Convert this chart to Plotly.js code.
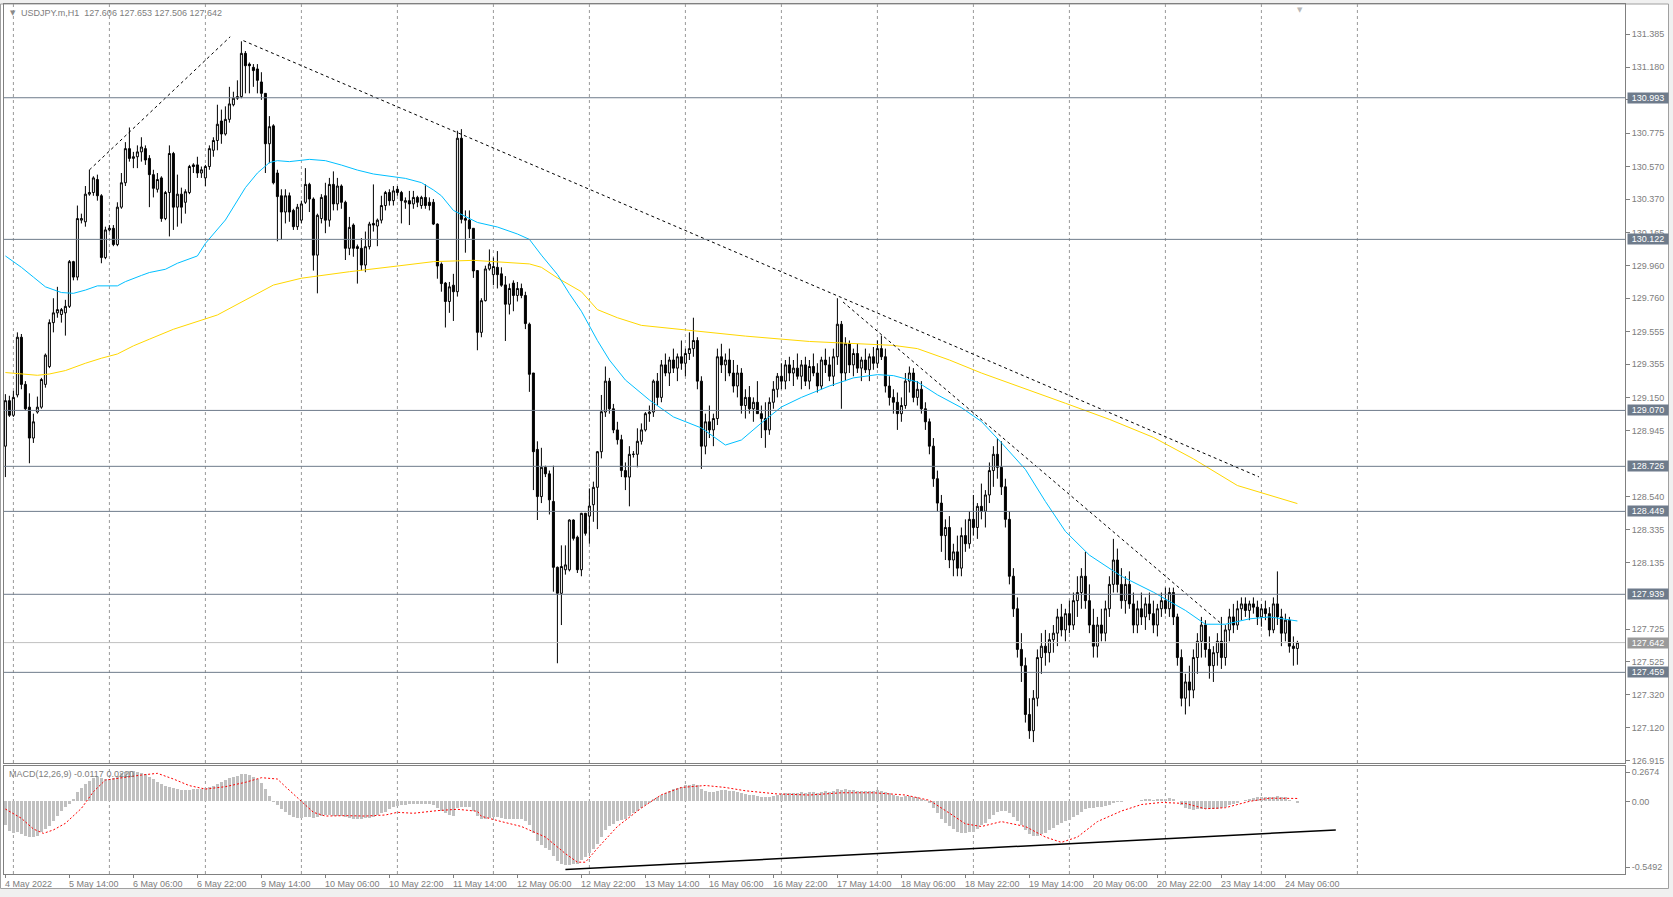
<!DOCTYPE html>
<html><head><meta charset="utf-8">
<script src="https://cdn.plot.ly/plotly-3.0.1.min.js"></script>
<style>html,body{margin:0;padding:0;background:#fff}#chart{width:1673px;height:897px}</style>
</head><body><div id="chart"></div>
<script>
const symbolTitle = "USDJPY.m,H1  127.606 127.653 127.506 127.642";
const macdTitle = "MACD(12,26,9) -0.0117 0.0220";

const opens = [
128.85,129.13,129.04,129.165,129.52,129.23,129.09,128.90,129.06,129.09,
129.23,129.34,129.61,129.67,129.66,129.67,129.71,129.985,129.89,130.24,
130.23,130.40,130.41,130.49,130.39,130.01,130.18,130.19,130.09,130.32,
130.47,130.68,130.62,130.63,130.66,130.68,130.62,130.52,130.43,130.50,
130.25,130.41,130.65,130.32,130.40,130.35,130.41,130.58,130.58,130.53,
130.50,130.57,130.67,130.73,130.85,130.77,130.86,130.95,130.99,131.00,
131.266,131.20,131.18,131.17,131.09,131.02,130.71,130.82,130.53,130.39,
130.29,130.39,130.30,130.20,130.24,130.35,130.46,130.37,130.025,130.25,
130.39,130.24,130.46,130.34,130.45,130.35,130.067,130.21,130.077,130.067,
129.964,130.077,130.22,130.204,130.24,130.33,130.41,130.36,130.43,130.41,
130.35,130.36,130.34,130.38,130.33,130.38,130.35,130.35,130.216,129.97,
129.853,129.74,129.84,129.80,130.744,130.25,130.24,130.19,129.93,129.55,
129.745,129.94,129.905,129.95,129.91,129.842,129.723,129.853,129.777,129.82,
129.777,129.60,129.30,128.83,128.54,128.72,128.68,128.51,128.105,127.945,
128.09,128.09,128.396,128.29,128.09,128.437,128.42,128.49,128.597,128.816,
129.06,129.25,129.08,128.95,128.89,128.70,128.66,128.80,128.80,128.88,
128.95,129.05,129.06,129.25,129.15,129.35,129.30,129.38,129.33,129.40,
129.36,129.42,129.45,129.50,129.25,128.85,129.00,128.95,129.02,129.40,
129.35,129.38,129.30,129.22,129.30,129.10,129.15,129.08,129.12,129.05,
129.02,128.95,129.12,129.20,129.28,129.25,129.35,129.30,129.33,129.28,
129.35,129.25,129.34,129.30,129.22,129.38,129.35,129.28,129.40,129.60,
129.30,129.48,129.35,129.42,129.33,129.38,129.32,129.40,129.36,129.45,
129.40,129.22,129.15,129.12,129.05,129.10,129.25,129.30,129.15,129.20,
129.08,129.00,128.85,128.65,128.50,128.30,128.35,128.15,128.20,128.10,
128.30,128.25,128.40,128.35,128.48,128.45,128.55,128.70,128.80,128.72,
128.60,128.40,128.05,127.85,127.60,127.50,127.20,127.10,127.30,127.55,
127.62,127.58,127.66,127.70,127.80,127.72,127.82,127.75,127.90,127.95,
128.05,127.90,127.75,127.62,127.75,127.70,127.85,128.00,128.15,128.00,
127.90,128.00,127.88,127.75,127.85,127.80,127.88,127.82,127.75,127.85,
127.90,127.85,127.95,127.80,127.55,127.30,127.40,127.35,127.55,127.65,
127.75,127.60,127.50,127.58,127.65,127.55,127.72,127.80,127.75,127.85,
127.88,127.84,127.88,127.86,127.80,127.85,127.82,127.72,127.88,127.80,
127.70,127.78,127.62,127.606];

const highs = [
129.17,129.16,129.19,129.55,129.54,129.25,129.175,129.05,129.155,129.27,
129.42,129.63,129.76,129.83,129.70,129.75,129.995,129.99,130.33,130.28,
130.45,130.55,130.51,130.52,130.40,130.20,130.21,130.21,130.35,130.53,
130.72,130.81,130.66,130.70,130.75,130.70,130.64,130.55,130.53,130.51,
130.42,130.70,130.66,130.52,130.44,130.43,130.58,130.59,130.63,130.57,
130.58,130.70,130.75,130.95,130.92,130.94,131.06,131.03,131.10,131.34,
131.28,131.21,131.20,131.20,131.15,131.02,130.88,130.83,130.55,130.43,
130.43,130.41,130.31,130.34,130.36,130.56,130.47,130.38,130.28,130.40,
130.47,130.50,130.54,130.50,130.46,130.36,130.26,130.22,130.09,130.13,
130.17,130.23,130.46,130.25,130.39,130.42,130.43,130.45,130.45,130.42,
130.38,130.42,130.42,130.39,130.39,130.46,130.38,130.37,130.22,129.98,
129.86,129.86,129.91,130.79,130.80,130.30,130.30,130.19,129.93,129.76,
129.96,130.06,130.01,130.05,129.95,129.896,129.85,129.87,129.86,129.85,
129.80,129.61,129.30,128.88,128.84,128.73,128.70,128.73,128.11,128.24,
128.24,128.40,128.40,128.30,128.44,128.44,128.59,128.632,128.82,129.165,
129.34,129.27,129.11,129.00,128.92,128.75,128.85,128.82,128.96,128.99,
129.06,129.10,129.26,129.30,129.38,129.42,129.40,129.45,129.42,129.50,
129.45,129.55,129.64,129.52,129.28,129.05,129.10,129.05,129.45,129.48,
129.42,129.45,129.38,129.35,129.33,129.20,129.22,129.15,129.25,129.10,
129.12,129.15,129.25,129.30,129.36,129.38,129.40,129.38,129.42,129.38,
129.40,129.38,129.42,129.36,129.40,129.45,129.40,129.45,129.76,129.62,
129.52,129.50,129.45,129.48,129.40,129.45,129.42,129.46,129.50,129.53,
129.45,129.28,129.20,129.18,129.15,129.30,129.34,129.33,129.25,129.25,
129.12,129.02,128.90,128.70,128.55,128.40,128.42,128.25,128.30,128.35,
128.40,128.45,128.55,128.50,128.62,128.58,128.75,128.85,128.90,128.88,
128.65,128.45,128.10,127.92,127.70,127.55,127.30,127.35,127.60,127.70,
127.72,127.70,127.75,127.85,127.88,127.85,127.90,127.95,128.05,128.10,
128.20,128.00,127.85,127.80,127.85,127.90,128.05,128.28,128.22,128.10,
128.05,128.08,127.95,127.90,127.95,127.92,127.95,127.90,127.88,127.95,
127.98,127.98,127.98,127.82,127.60,127.45,127.50,127.60,127.70,127.80,
127.78,127.68,127.62,127.70,127.80,127.75,127.85,127.88,127.90,127.92,
127.92,127.90,127.92,127.90,127.88,127.90,127.86,127.92,128.08,127.85,
127.82,127.80,127.68,127.653];

const lows = [
128.66,129.03,129.03,129.15,129.20,129.07,128.745,128.87,129.05,129.08,
129.21,129.33,129.55,129.64,129.61,129.53,129.70,129.87,129.87,130.22,
130.20,130.39,130.39,130.36,129.975,130.00,130.17,130.08,130.08,130.31,
130.45,130.60,130.56,130.56,130.60,130.58,130.32,130.38,130.41,130.23,
130.24,130.14,130.18,130.20,130.22,130.28,130.40,130.53,130.50,130.50,
130.45,130.55,130.63,130.67,130.71,130.76,130.84,130.94,130.98,130.99,
131.02,131.02,131.06,131.02,130.98,130.53,130.59,130.46,130.11,130.12,
130.22,130.23,130.18,130.18,130.22,130.34,130.29,129.93,129.79,130.22,
130.16,130.20,130.30,130.30,130.31,129.995,130.025,130.015,129.85,129.93,
129.92,130.06,130.17,130.08,130.22,130.30,130.33,130.33,130.39,130.22,
130.31,130.21,130.31,130.32,130.31,130.31,130.30,130.21,129.88,129.80,
129.58,129.67,129.62,129.77,130.22,130.04,130.13,129.885,129.44,129.52,
129.74,129.93,129.84,129.82,129.83,129.497,129.66,129.68,129.74,129.76,
129.57,129.184,128.58,128.396,128.50,128.66,128.43,127.955,127.515,127.75,
128.06,128.08,128.27,128.07,128.05,128.30,128.25,128.385,128.34,128.775,
129.03,129.05,128.93,128.86,128.66,128.58,128.48,128.78,128.72,128.86,
128.94,129.00,129.03,129.10,129.12,129.28,129.22,129.30,129.25,129.32,
129.28,129.38,129.40,129.20,128.71,128.80,128.90,128.85,128.98,129.30,
129.25,129.28,129.18,129.15,129.05,129.02,129.05,129.00,129.05,128.90,
128.84,128.92,129.08,129.15,129.20,129.20,129.25,129.22,129.26,129.20,
129.22,129.20,129.28,129.18,129.20,129.30,129.25,129.22,129.35,129.08,
129.25,129.30,129.28,129.30,129.25,129.30,129.25,129.32,129.33,129.38,
129.18,129.10,129.05,128.95,129.00,129.08,129.18,129.12,129.10,129.05,
128.95,128.80,128.60,128.45,128.20,128.15,128.10,128.05,128.05,128.05,
128.20,128.22,128.30,128.28,128.40,128.35,128.50,128.60,128.65,128.55,
128.35,128.00,127.80,127.55,127.40,127.15,127.05,127.03,127.25,127.45,
127.50,127.52,127.58,127.62,127.68,127.65,127.70,127.72,127.80,127.85,
127.85,127.70,127.55,127.55,127.65,127.65,127.80,127.95,127.95,127.85,
127.82,127.85,127.70,127.70,127.75,127.72,127.78,127.70,127.68,127.80,
127.82,127.80,127.75,127.50,127.25,127.20,127.25,127.30,127.45,127.55,
127.55,127.42,127.40,127.50,127.48,127.50,127.65,127.70,127.72,127.78,
127.80,127.78,127.82,127.75,127.74,127.78,127.68,127.70,127.75,127.62,
127.65,127.58,127.50,127.506];

const closes = [
129.13,129.04,129.15,129.52,129.23,129.08,128.90,129.00,129.09,129.26,
129.41,129.61,129.67,129.69,129.69,129.71,129.985,129.89,130.25,130.25,
130.40,130.41,130.50,130.39,130.01,130.18,130.19,130.09,130.32,130.47,
130.68,130.62,130.63,130.66,130.69,130.61,130.52,130.436,130.49,130.25,
130.41,130.65,130.32,130.40,130.32,130.415,130.57,130.57,130.53,130.55,
130.57,130.68,130.73,130.83,130.77,130.86,130.955,130.99,131.00,131.266,
131.19,131.19,131.16,131.10,131.02,130.71,130.815,130.47,130.385,130.29,
130.39,130.29,130.20,130.32,130.34,130.46,130.37,130.025,130.27,130.38,
130.24,130.46,130.34,130.45,130.35,130.067,130.196,130.067,130.066,129.964,
130.077,130.216,130.21,130.24,130.33,130.41,130.36,130.42,130.41,130.36,
130.36,130.34,130.38,130.35,130.38,130.33,130.33,130.216,129.958,129.85,
129.74,129.83,129.80,130.744,130.245,130.24,130.187,129.928,129.55,129.745,
129.94,129.97,129.955,129.905,129.84,129.723,129.82,129.777,129.82,129.777,
129.604,129.292,128.816,128.54,128.72,128.68,128.52,128.105,127.945,128.11,
128.12,128.396,128.283,128.09,128.437,128.314,128.482,128.597,128.816,129.062,
129.25,129.08,128.95,128.89,128.70,128.66,128.80,128.80,128.88,128.95,
129.05,129.06,129.25,129.15,129.35,129.30,129.38,129.33,129.40,129.36,
129.42,129.45,129.50,129.25,128.85,129.00,128.95,129.02,129.40,129.35,
129.38,129.30,129.22,129.30,129.10,129.15,129.08,129.12,129.05,129.02,
128.95,129.12,129.20,129.28,129.25,129.35,129.30,129.33,129.28,129.35,
129.25,129.34,129.30,129.22,129.38,129.35,129.28,129.40,129.60,129.30,
129.48,129.35,129.42,129.33,129.38,129.32,129.40,129.36,129.45,129.40,
129.22,129.15,129.12,129.05,129.10,129.25,129.30,129.15,129.20,129.08,
129.00,128.85,128.65,128.50,128.30,128.35,128.15,128.20,128.10,128.30,
128.25,128.40,128.35,128.48,128.45,128.55,128.70,128.80,128.72,128.60,
128.40,128.05,127.85,127.60,127.50,127.20,127.10,127.30,127.55,127.62,
127.58,127.66,127.70,127.80,127.72,127.82,127.75,127.90,127.95,128.05,
127.90,127.75,127.62,127.75,127.70,127.85,128.00,128.15,128.00,127.90,
128.00,127.88,127.75,127.85,127.80,127.88,127.82,127.75,127.85,127.90,
127.85,127.95,127.80,127.55,127.30,127.40,127.35,127.55,127.65,127.75,
127.60,127.50,127.58,127.65,127.55,127.72,127.80,127.75,127.85,127.88,
127.84,127.88,127.86,127.80,127.85,127.82,127.72,127.88,127.80,127.70,
127.78,127.62,127.606,127.642];

const macdHist = [
-0.179,-0.224,-0.242,-0.234,-0.249,-0.259,-0.269,-0.272,-0.259,-0.229,
-0.209,-0.184,-0.148,-0.108,-0.073,-0.040,-0.020,0.018,0.068,0.104,
0.129,0.154,0.174,0.187,0.179,0.169,0.169,0.174,0.194,0.212,
0.224,0.230,0.230,0.219,0.212,0.204,0.187,0.169,0.149,0.129,
0.119,0.111,0.104,0.093,0.086,0.086,0.086,0.091,0.091,0.093,
0.098,0.108,0.119,0.129,0.144,0.162,0.174,0.187,0.194,0.204,
0.204,0.199,0.187,0.169,0.136,0.093,0.043,-0.007,-0.027,-0.058,
-0.083,-0.103,-0.116,-0.123,-0.123,-0.116,-0.116,-0.123,-0.118,-0.111,
-0.106,-0.106,-0.108,-0.108,-0.111,-0.118,-0.128,-0.133,-0.136,-0.133,
-0.128,-0.123,-0.116,-0.103,-0.090,-0.078,-0.058,-0.040,-0.032,
-0.030,-0.025,-0.020,-0.020,-0.018,-0.020,-0.020,-0.022,-0.030,-0.050,
-0.070,-0.090,-0.100,-0.110,-0.050,-0.040,-0.040,-0.045,-0.070,-0.110,
-0.130,-0.130,-0.125,-0.120,-0.120,-0.125,-0.130,-0.135,-0.130,-0.130,
-0.130,-0.145,-0.180,-0.240,-0.300,-0.330,-0.350,-0.370,-0.410,-0.450,
-0.470,-0.480,-0.480,-0.470,-0.470,-0.440,-0.420,-0.390,-0.360,-0.320,
-0.270,-0.220,-0.190,-0.170,-0.150,-0.140,-0.130,-0.110,-0.090,-0.070,
-0.050,-0.030,-0.010,0.020,0.030,0.050,0.060,0.080,0.090,0.100,
0.110,0.120,0.125,0.130,0.120,0.090,0.080,0.070,0.070,0.080,
0.085,0.085,0.080,0.075,0.070,0.060,0.055,0.050,0.045,0.040,
0.035,0.030,0.035,0.040,0.050,0.055,0.060,0.065,0.065,0.065,
0.070,0.065,0.070,0.070,0.065,0.070,0.075,0.070,0.075,0.090,
0.085,0.090,0.085,0.085,0.080,0.080,0.078,0.080,0.080,0.085,
0.080,0.070,0.060,0.050,0.040,0.035,0.040,0.040,0.035,0.030,
0.020,0.010,-0.010,-0.050,-0.090,-0.130,-0.160,-0.190,-0.210,-0.230,
-0.240,-0.240,-0.235,-0.230,-0.210,-0.180,-0.160,-0.130,-0.100,-0.080,
-0.070,-0.070,-0.090,-0.120,-0.150,-0.180,-0.220,-0.250,-0.260,-0.260,
-0.250,-0.240,-0.220,-0.200,-0.180,-0.160,-0.145,-0.140,-0.120,-0.100,
-0.080,-0.060,-0.050,-0.050,-0.045,-0.040,-0.035,-0.025,-0.010,-0.005,
-0.005,0.000,0.005,0.000,0.005,0.010,0.015,0.015,0.010,0.015,
0.020,0.020,0.025,0.020,0.000,-0.030,-0.050,-0.060,-0.065,-0.060,
-0.055,-0.055,-0.060,-0.060,-0.055,-0.050,-0.040,-0.030,-0.020,-0.010,
0.000,0.010,0.020,0.025,0.030,0.035,0.035,0.030,0.035,0.040,
0.035,0.030,0.010,0.000,-0.012];

const signalIdx = [0,4,7,9.5,12,15,19,22,25,29,34,38,42,46,50,55,60,64,68,70,74,77,80,85,90,95,98,102,108,113,118,
  119,124,129,135,140,143,145,148,153,159,164,169,175,180,185,193,201,209,217,225,231,236,240,244,249,255,260,264,268,273,279,284,289,295,300,305,311,316,323];
const signalVal = [-0.058,-0.128,-0.209,-0.242,-0.216,-0.166,-0.053,0.073,0.161,0.179,0.199,0.212,0.169,0.119,0.093,0.111,0.144,0.179,0.169,0.111,-0.002,-0.083,-0.111,-0.108,-0.111,-0.103,-0.083,-0.09,-0.07,-0.06,-0.075,
  -0.113,-0.153,-0.19,-0.27,-0.395,-0.46,-0.46,-0.355,-0.19,-0.05,0.05,0.105,0.12,0.105,0.08,0.056,0.048,0.065,0.065,0.048,0.008,-0.089,-0.17,-0.19,-0.153,-0.19,-0.27,-0.31,-0.27,-0.153,-0.073,-0.024,-0.008,-0.016,-0.056,-0.048,0.0,0.024,0.022];

const maFastIdx = [0,4,7,10,14,17,20,23,28,30,34,36,40,43,48,50,55,60,63,66,68,71,76,80,84,88,92,96,100,104,107,109,112,118,123,128,131,134,138,141,144,148,151,155,161,167,174,180,184,189,194,199,206,212,218,222,228,233,239,244,249,255,260,265,271,279,287,295,300,305,311,316,323];
const maFastVal = [130.02,129.95,129.89,129.83,129.795,129.79,129.81,129.836,129.836,129.862,129.90,129.918,129.938,129.975,130.02,130.097,130.241,130.44,130.53,130.594,130.606,130.60,130.614,130.606,130.579,130.548,130.524,130.512,130.497,130.471,130.426,130.39,130.30,130.226,130.198,130.155,130.122,130.025,129.906,129.788,129.68,129.50,129.38,129.257,129.134,129.03,128.962,128.857,128.888,128.993,129.091,129.15,129.22,129.27,129.29,129.284,129.245,129.166,129.087,129.002,128.871,128.707,128.51,128.326,128.18,128.05,127.952,127.84,127.755,127.755,127.788,127.80,127.775];

const maSlowIdx = [0,8,11,15,20,24,28,32,36,42,53,61,67,74,86,98,107,117,125,131,134,138,144,148,153,159,172,185,201,212,222,228,236,244,255,265,276,287,297,308,323];
const maSlowVal = [129.303,129.286,129.294,129.315,129.36,129.391,129.417,129.467,129.508,129.569,129.657,129.76,129.841,129.883,129.923,129.958,129.985,129.993,129.982,129.971,129.95,129.885,129.80,129.69,129.64,129.593,129.56,129.527,129.494,129.481,129.47,129.45,129.38,129.30,129.20,129.114,129.015,128.904,128.772,128.608,128.497];

const trend1Idx = [21, 56.2], trend1Price = [130.549, 131.368];
const trend2Idx = [59.5, 313.4], trend2Price = [131.344, 128.661];
const trend3Idx = [209.4, 304.1], trend3Price = [129.737, 127.756];
const macdTrendIdx = [140, 332.6], macdTrendVal = [-0.516, -0.216];

const levels = [130.993, 130.122, 129.070, 128.726, 128.449, 127.939, 127.459];
const lastPrice = 127.642;
const priceTicks = [131.385,131.180,130.980,130.775,130.570,130.370,130.165,129.960,129.760,129.555,129.355,129.150,128.945,128.540,128.335,128.135,127.725,127.525,127.320,127.120,126.915];
const macdTicks = [0.2674, 0.0, -0.5492];
const macdTickText = ["0.2674", "0.00", "-0.5492"];
const timeLabels = ["4 May 2022","5 May 14:00","6 May 06:00","6 May 22:00","9 May 14:00","10 May 06:00","10 May 22:00","11 May 14:00","12 May 06:00","12 May 22:00","13 May 14:00","16 May 06:00","16 May 22:00","17 May 14:00","18 May 06:00","18 May 22:00","19 May 14:00","20 May 06:00","20 May 22:00","23 May 14:00","24 May 06:00"];
const barsPerLabel = 16;
const gridStart = 2, gridStep = 24;

// ---------- layout geometry ----------
const W = 1673, H = 897;
const PL = 4, PR = 1625, PT = 4, PB = 874;
const mainBottomPx = 763, macdTopPx = 766;
const pxX = px => (px - PL) / (PR - PL);
const pxY = py => (PB - py) / (PB - PT);
const FONT = 'Liberation Sans, Arial, sans-serif';
const TXT = '#7d7d7d';
const LEVEL_COL = '#6e7b8b';

const idx = closes.map((_, i) => i);
const macdMin = macdTicks[2], macdMax = macdTicks[0];
const macdPxPerUnit = (PB - macdTopPx) / (macdMax - macdMin);
const macdTickPos = [macdMax - 6 / macdPxPerUnit, 0, macdMin + 7 / macdPxPerUnit];
const labelIdx = timeLabels.map((_, k) => k * barsPerLabel);
const gridIdx = [];
for (let g = gridStart; g <= closes.length + barsPerLabel; g += gridStep) gridIdx.push(g);

const traces = [
  {type: 'scatter', mode: 'lines', x: maSlowIdx, y: maSlowVal, xaxis: 'x', yaxis: 'y',
   line: {color: '#ffd700', width: 1}, hoverinfo: 'skip'},
  {type: 'scatter', mode: 'lines', x: maFastIdx, y: maFastVal, xaxis: 'x', yaxis: 'y',
   line: {color: '#00bfff', width: 1}, hoverinfo: 'skip'},
  {type: 'candlestick', x: idx, open: opens, high: highs, low: lows, close: closes,
   xaxis: 'x', yaxis: 'y', whiskerwidth: 0,
   increasing: {line: {color: '#000000', width: 1}, fillcolor: '#ffffff'},
   decreasing: {line: {color: '#000000', width: 1}, fillcolor: '#000000'},
   hoverinfo: 'skip'},
  {type: 'scatter', mode: 'lines', x: trend1Idx, y: trend1Price, xaxis: 'x', yaxis: 'y',
   line: {color: '#000000', width: 1, dash: '3px,3px'}, hoverinfo: 'skip'},
  {type: 'scatter', mode: 'lines', x: trend2Idx, y: trend2Price, xaxis: 'x', yaxis: 'y',
   line: {color: '#000000', width: 1, dash: '3px,3px'}, hoverinfo: 'skip'},
  {type: 'scatter', mode: 'lines', x: trend3Idx, y: trend3Price, xaxis: 'x', yaxis: 'y',
   line: {color: '#000000', width: 1, dash: '3px,3px'}, hoverinfo: 'skip'},
  {type: 'bar', x: idx, y: macdHist, xaxis: 'x2', yaxis: 'y2', width: 0.55,
   marker: {color: '#c0c0c0', line: {width: 0}}, hoverinfo: 'skip'},
  {type: 'scatter', mode: 'lines', x: signalIdx, y: signalVal, xaxis: 'x2', yaxis: 'y2',
   line: {color: '#ff0000', width: 1, dash: '2px,2px'}, hoverinfo: 'skip'},
  {type: 'scatter', mode: 'lines', x: macdTrendIdx, y: macdTrendVal, xaxis: 'x2', yaxis: 'y2',
   line: {color: '#000000', width: 1.5}, hoverinfo: 'skip', cliponaxis: true}
];

const shapes = [];
shapes.push({type: 'rect', xref: 'paper', yref: 'paper', layer: 'below',
  x0: pxX(0.5), x1: pxX(1668.5), y0: pxY(888.5), y1: pxY(PT),
  fillcolor: '#ffffff', line: {color: '#a0a0a0', width: 1}});
gridIdx.forEach(g => {
  shapes.push({type: 'line', xref: 'x', yref: 'y domain', layer: 'below', x0: g, x1: g, y0: 0, y1: 1,
    line: {color: '#9a9a9a', width: 1, dash: '3px,3px'}});
  shapes.push({type: 'line', xref: 'x2', yref: 'y2 domain', layer: 'below', x0: g, x1: g, y0: 0, y1: 1,
    line: {color: '#9a9a9a', width: 1, dash: '3px,3px'}});
});
levels.forEach(lv => shapes.push({type: 'line', xref: 'paper', yref: 'y', x0: 0, x1: 1, y0: lv, y1: lv,
  line: {color: LEVEL_COL, width: 1}}));
shapes.push({type: 'line', xref: 'paper', yref: 'y', x0: 0, x1: 1, y0: lastPrice, y1: lastPrice,
  line: {color: '#c0c0c0', width: 1}});

const annotations = [];
levels.forEach(lv => annotations.push({xref: 'paper', yref: 'y', x: 1, y: lv, xanchor: 'left', yanchor: 'middle',
  xshift: 2, text: lv.toFixed(3), showarrow: false, bgcolor: LEVEL_COL, width: 40, height: 10, borderpad: 0,
  font: {family: FONT, size: 9, color: '#ffffff'}}));
annotations.push({xref: 'paper', yref: 'y', x: 1, y: lastPrice, xanchor: 'left', yanchor: 'middle',
  xshift: 2, text: lastPrice.toFixed(3), showarrow: false, bgcolor: '#9a9a9a', width: 40, height: 10, borderpad: 0,
  font: {family: FONT, size: 9, color: '#ffffff'}});
timeLabels.forEach((t, k) => annotations.push({xref: 'x2', yref: 'paper', x: labelIdx[k], y: pxY(884),
  xanchor: 'left', yanchor: 'middle', xshift: -2, text: t, showarrow: false,
  font: {family: FONT, size: 9, color: TXT}}));
annotations.push({xref: 'paper', yref: 'paper', x: pxX(8), y: pxY(13), xanchor: 'left', yanchor: 'middle',
  text: '\u25BC', showarrow: false, font: {family: 'DejaVu Sans', size: 7, color: '#8a8a8a'}});
annotations.push({xref: 'paper', yref: 'paper', x: pxX(19), y: pxY(13), xanchor: 'left', yanchor: 'middle',
  text: symbolTitle.replace(/ {2}/g, '&nbsp; '), showarrow: false, font: {family: FONT, size: 9, color: TXT}});
annotations.push({xref: 'paper', yref: 'paper', x: pxX(7), y: pxY(774), xanchor: 'left', yanchor: 'middle',
  text: macdTitle, showarrow: false, font: {family: FONT, size: 9, color: TXT}});
annotations.push({xref: 'x', yref: 'paper', x: closes.length - 0.4, y: pxY(PT), xanchor: 'center', yanchor: 'top',
  text: '\u25BC', showarrow: false, font: {family: 'DejaVu Sans', size: 7, color: '#b8b8b8'}});

const layout = {
  width: W, height: H,
  margin: {l: PL, r: W - PR, t: PT, b: H - PB, pad: 0},
  paper_bgcolor: '#f0f0f0', plot_bgcolor: '#ffffff',
  showlegend: false, hovermode: false, dragmode: false,
  font: {family: FONT, size: 9, color: TXT},
  boxgap: 0.5, boxgroupgap: 0, bargap: 0,
  xaxis: {domain: [0, 1], anchor: 'y', range: [-0.35, 404.9], rangeslider: {visible: false},
    tickmode: 'array', tickvals: labelIdx, showticklabels: false, ticks: '', showgrid: false, zeroline: false,
    showline: true, linecolor: '#808080', linewidth: 1, mirror: true},
  xaxis2: {domain: [0, 1], anchor: 'y2', matches: 'x', range: [-0.35, 404.9],
    tickmode: 'array', tickvals: labelIdx, showticklabels: false, ticks: 'outside', ticklen: 3,
    tickcolor: '#808080', tickwidth: 1, showgrid: false, zeroline: false,
    showline: true, linecolor: '#808080', linewidth: 1, mirror: true},
  yaxis: {domain: [pxY(mainBottomPx), 1], anchor: 'x', side: 'right', range: [126.9015, 131.5695],
    tickmode: 'array', tickvals: priceTicks, ticktext: priceTicks.map(v => v.toFixed(3)),
    ticks: 'outside', ticklen: 4, tickcolor: '#808080', tickwidth: 1,
    showgrid: false, zeroline: false, showline: true, linecolor: '#808080', linewidth: 1, mirror: true,
    tickfont: {family: FONT, size: 9, color: TXT}},
  yaxis2: {domain: [0, pxY(macdTopPx)], anchor: 'x2', side: 'right', range: [macdMin, macdMax],
    tickmode: 'array', tickvals: macdTickPos, ticktext: macdTickText,
    ticks: 'outside', ticklen: 4, tickcolor: '#808080', tickwidth: 1,
    showgrid: false, zeroline: false, showline: true, linecolor: '#808080', linewidth: 1, mirror: true,
    tickfont: {family: FONT, size: 9, color: TXT}},
  shapes: shapes,
  annotations: annotations
};

Plotly.newPlot('chart', traces, layout, {staticPlot: true, displayModeBar: false});
</script>
</body></html>
